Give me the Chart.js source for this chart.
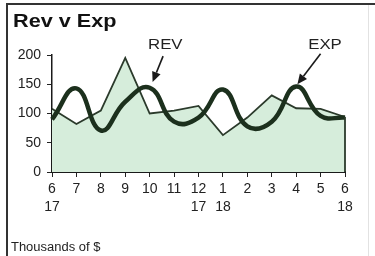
<!DOCTYPE html>
<html>
<head>
<meta charset="utf-8">
<script src="https://cdn.jsdelivr.net/npm/chart.js@4.4.1/dist/chart.umd.min.js"></script>
<style>
  html, body { margin: 0; padding: 0; background: #fff; }
</style>
</head>
<body>
<canvas id="chart" width="375" height="256"></canvas>
<script>
// Chart data
const months = ['6', '7', '8', '9', '10', '11', '12', '1', '2', '3', '4', '5', '6'];
const years = ['17', '', '', '', '', '', '17', '18', '', '', '', '', '18'];
const revenue = [108, 82, 105, 195, 100, 105, 113, 63, 93, 131, 109, 108, 94];
const expenses = [90, 143, 71, 120, 144, 86, 93, 141, 78, 86, 146, 96, 93];
const yTicks = [0, 50, 100, 150, 200];

const titleText = 'Rev v Exp';
const footerText = 'Thousands of $';

// Callouts (label, text position, arrow tail, arrow tip) in axis units
const callouts = [
  { text: 'REV', at: [4.64, 217], from: [4.55, 198], to: [4.12, 154] },
  { text: 'EXP', at: [11.18, 217], from: [11.0, 202], to: [10.05, 150] }
];

const FONT = '"Liberation Sans", Arial, sans-serif';
const INK = '#222';

// x labels: month on first line, year below
const labels = months.map((m, i) => years[i] ? [m, years[i]] : [m]);

// Draw frame, title, footer and callouts
const decorPlugin = {
  id: 'decor',
  beforeDraw(chart) {
    const ctx = chart.ctx;
    ctx.save();
    ctx.fillStyle = '#fff';
    ctx.fillRect(0, 0, chart.width, chart.height);
    ctx.restore();
  },
  afterDatasetsDraw(chart) {
    // closing edge of the area at its last point
    const ctx = chart.ctx;
    const x = chart.scales.x;
    const y = chart.scales.y;
    const last = revenue.length - 1;
    ctx.save();
    ctx.strokeStyle = '#2b3a2b';
    ctx.lineWidth = 1.8;
    ctx.beginPath();
    ctx.moveTo(x.getPixelForValue(last), y.getPixelForValue(revenue[last]));
    ctx.lineTo(x.getPixelForValue(last), y.getPixelForValue(0));
    ctx.stroke();
    ctx.restore();
  },
  afterDraw(chart) {
    const ctx = chart.ctx;
    const x = chart.scales.x;
    const y = chart.scales.y;
    ctx.save();

    // frame
    ctx.strokeStyle = '#333';
    ctx.lineWidth = 2;
    ctx.beginPath();
    ctx.moveTo(7, 260);
    ctx.lineTo(7, 4);
    ctx.lineTo(375, 4);
    ctx.stroke();
    ctx.strokeStyle = '#e2e2e2';
    ctx.lineWidth = 1;
    ctx.beginPath();
    ctx.moveTo(368.5, 5);
    ctx.lineTo(368.5, 256);
    ctx.stroke();

    // title
    ctx.fillStyle = '#111';
    ctx.textBaseline = 'alphabetic';
    ctx.textAlign = 'left';
    ctx.save();
    ctx.translate(13, 27);
    ctx.scale(1.14, 1);
    ctx.font = 'bold 19px ' + FONT;
    ctx.fillText(titleText, 0, 0);
    ctx.restore();

    // footer
    ctx.save();
    ctx.translate(11, 251);
    ctx.scale(1.08, 1);
    ctx.font = '12px ' + FONT;
    ctx.fillStyle = INK;
    ctx.fillText(footerText, 0, 0);
    ctx.restore();

    // callouts
    callouts.forEach(c => {
      const tx = x.getPixelForValue(c.at[0]);
      const ty = y.getPixelForValue(c.at[1]);
      ctx.save();
      ctx.translate(tx, ty);
      ctx.scale(1.12, 1);
      ctx.font = '15px ' + FONT;
      ctx.fillStyle = INK;
      ctx.textAlign = 'center';
      ctx.textBaseline = 'middle';
      ctx.fillText(c.text, 0, 0);
      ctx.restore();

      const x0 = x.getPixelForValue(c.from[0]);
      const y0 = y.getPixelForValue(c.from[1]);
      const x1 = x.getPixelForValue(c.to[0]);
      const y1 = y.getPixelForValue(c.to[1]);
      const ang = Math.atan2(y1 - y0, x1 - x0);
      const headLen = 10;
      const headW = 4.5;
      const bx = x1 - headLen * Math.cos(ang);
      const by = y1 - headLen * Math.sin(ang);
      ctx.strokeStyle = '#1a1a1a';
      ctx.lineWidth = 1.6;
      ctx.beginPath();
      ctx.moveTo(x0, y0);
      ctx.lineTo(bx, by);
      ctx.stroke();
      ctx.fillStyle = '#1a1a1a';
      ctx.beginPath();
      ctx.moveTo(x1, y1);
      ctx.lineTo(bx + headW * Math.sin(ang), by - headW * Math.cos(ang));
      ctx.lineTo(bx - headW * Math.sin(ang), by + headW * Math.cos(ang));
      ctx.closePath();
      ctx.fill();
    });

    ctx.restore();
  }
};

const chart = new Chart(document.getElementById('chart'), {
  type: 'line',
  data: {
    labels: labels,
    datasets: [
      {
        label: 'EXP',
        data: expenses,
        borderColor: '#1c301d',
        borderWidth: 4.5,
        pointRadius: 0,
        tension: 0.45,
        fill: false,
        order: 0
      },
      {
        label: 'REV',
        data: revenue,
        borderColor: '#2b3a2b',
        borderWidth: 1.8,
        backgroundColor: 'rgb(214, 237, 219)',
        pointRadius: 0,
        tension: 0,
        fill: 'origin',
        order: 1
      }
    ]
  },
  options: {
    responsive: false,
    animation: false,
    layout: {
      padding: { left: 0, top: 55, right: 30, bottom: 24 }
    },
    plugins: {
      legend: { display: false },
      tooltip: { enabled: false },
      title: { display: false }
    },
    scales: {
      x: {
        type: 'category',
        offset: false,
        grid: {
          display: true,
          drawOnChartArea: false,
          drawTicks: true,
          tickLength: 5,
          color: '#222',
          lineWidth: 1
        },
        border: { display: true, color: '#1a1a1a', width: 2 },
        ticks: {
          autoSkip: false,
          maxRotation: 0,
          padding: 3,
          color: INK,
          font: { family: FONT, size: 14, lineHeight: 1.3 }
        },
        afterFit(scale) {
          scale.height = 60;
        }
      },
      y: {
        min: 0,
        max: 200,
        afterBuildTicks(scale) {
          scale.ticks = yTicks.map(v => ({ value: v }));
        },
        grid: {
          display: true,
          drawOnChartArea: false,
          drawTicks: true,
          tickLength: 5,
          color: '#222',
          lineWidth: 1
        },
        border: { display: true, color: '#1a1a1a', width: 1.5 },
        ticks: {
          padding: 6,
          color: INK,
          font: { family: FONT, size: 14 }
        },
        afterFit(scale) {
          scale.width = 52;
        }
      }
    }
  },
  plugins: [decorPlugin]
});
</script>
</body>
</html>
